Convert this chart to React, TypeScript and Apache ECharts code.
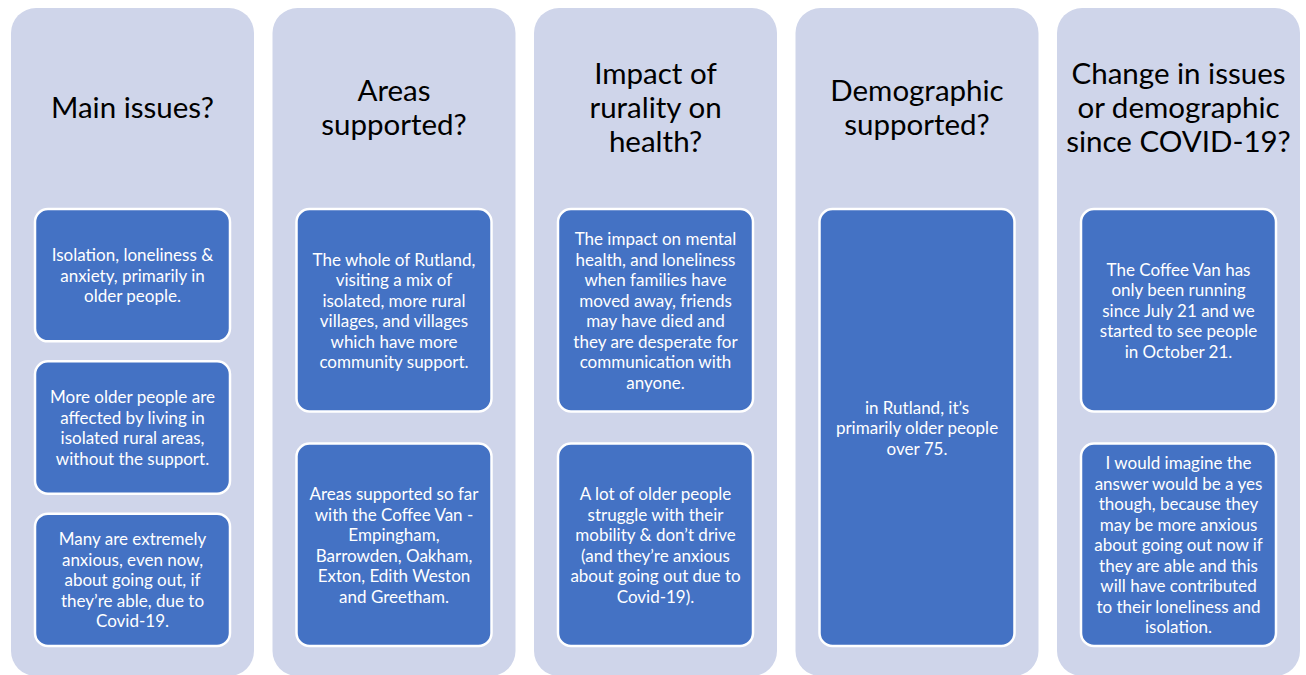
import React, { useEffect, useRef } from "react";
import * as echarts from "echarts";

const titles = [
  "Main issues?",
  "Areas\nsupported?",
  "Impact of\nrurality on\nhealth?",
  "Demographic\nsupported?",
  "Change in issues\nor demographic\nsince COVID-19?",
];

const mainIssues = [
  "Isolation, loneliness &\nanxiety, primarily in\nolder people.",
  "More older people are\naffected by living in\nisolated rural areas,\nwithout the support.",
  "Many are extremely\nanxious, even now,\nabout going out, if\nthey\u2019re able, due to\nCovid-19.",
];

const areasSupported = [
  "The whole of Rutland,\nvisiting a mix of\nisolated, more rural\nvillages, and villages\nwhich have more\ncommunity support.",
  "Areas supported so far\nwith the Coffee Van -\nEmpingham,\nBarrowden, Oakham,\nExton, Edith Weston\nand Greetham.",
];

const ruralityImpact = [
  "The impact on mental\nhealth, and loneliness\nwhen families have\nmoved away, friends\nmay have died and\nthey are desperate for\ncommunication with\nanyone.",
  "A lot of older people\nstruggle with their\nmobility & don\u2019t drive\n(and they\u2019re anxious\nabout going out due to\nCovid-19).",
];

const demographic = [
  "in Rutland, it\u2019s\nprimarily older people\nover 75.",
];

const covidChange = [
  "The Coffee Van has\nonly been running\nsince July 21 and we\nstarted to see people\nin October 21.",
  "I would imagine the\nanswer would be a yes\nthough, because they\nmay be more anxious\nabout going out now if\nthey are able and this\nwill have contributed\nto their loneliness and\nisolation.",
];

const columns = [mainIssues, areasSupported, ruralityImpact, demographic, covidChange];

const FONT = "Lato, 'Open Sans', sans-serif";

export default function App() {
  const ref = useRef<HTMLDivElement>(null);

  useEffect(() => {
    document.body.style.margin = "0";
    if (!ref.current) return;
    const chart = echarts.init(ref.current, undefined, { renderer: "svg" });

    const colW = 243;
    const colStep = 261.5;
    const colX0 = 11;
    const colTop = 8;
    const colH = 668;
    const boxInset = 24;
    const boxW = 195;
    const boxTop = 209;
    const boxBottom = 646;

    const elements: any[] = [];
    columns.forEach((notes, i) => {
      const x = colX0 + i * colStep;
      const cx = x + colW / 2;
      elements.push({
        type: "rect",
        shape: { x, y: colTop, width: colW, height: colH, r: 25 },
        style: { fill: "#CFD5EA" },
        silent: true,
      });
      elements.push({
        type: "text",
        x: cx,
        y: 106.5,
        style: {
          text: titles[i],
          fill: "#000000",
          fontSize: 29.5,
          fontFamily: FONT,
          align: "center",
          verticalAlign: "middle",
          lineHeight: 34,
        },
        silent: true,
      });
      const n = notes.length;
      const gap = n === 3 ? 20 : 32;
      const h = (boxBottom - boxTop - gap * (n - 1)) / n;
      notes.forEach((t, j) => {
        const by = boxTop + j * (h + gap);
        elements.push({
          type: "rect",
          shape: { x: x + boxInset, y: by, width: boxW, height: h, r: 13 },
          style: { fill: "#4472C4", stroke: "#FFFFFF", lineWidth: 2.5 },
          silent: true,
        });
        elements.push({
          type: "text",
          x: cx,
          y: by + h / 2,
          style: {
            text: t,
            fill: "#FFFFFF",
            fontSize: 17,
            fontFamily: FONT,
            align: "center",
            verticalAlign: "middle",
            lineHeight: 20.5,
          },
          silent: true,
        });
      });
    });

    chart.setOption({
      animation: false,
      backgroundColor: "#FFFFFF",
      graphic: { elements },
    });

    return () => chart.dispose();
  }, []);

  return <div ref={ref} style={{ width: 1306, height: 675 }} />;
}
